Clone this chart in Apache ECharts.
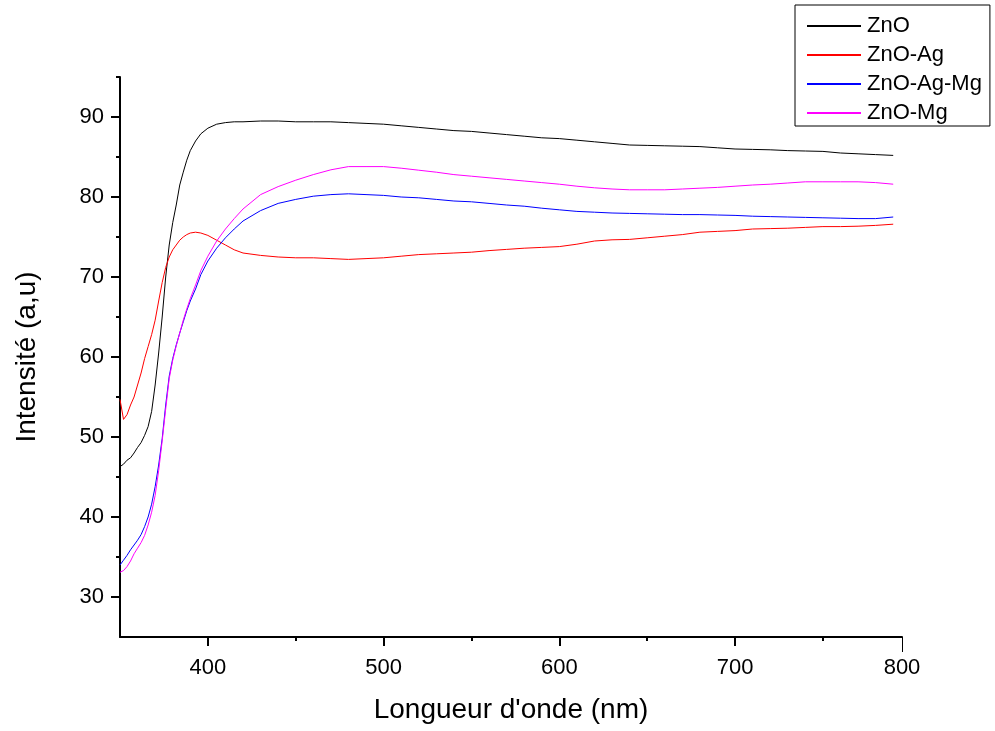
<!DOCTYPE html>
<html>
<head>
<meta charset="utf-8">
<title>Intensité</title>
<script src="https://cdn.jsdelivr.net/npm/echarts@6/dist/echarts.min.js"></script>
<style>
    html, body { margin: 0; padding: 0; background: #fff; }
    #chart { width: 995px; height: 731px; }
</style>
</head>
<body>
<div id="chart"></div>
<script>
    // longueur d'onde (nm)
    const wavelengths = [350, 352, 354, 356, 358, 360, 362, 364, 366, 368, 370, 372, 374, 376, 378, 380, 382, 384, 386, 388,
        390, 393, 396, 400, 405, 410, 415, 420, 430, 440, 450, 460, 470, 480, 490, 500, 510, 520, 530, 540,
        550, 560, 570, 580, 590, 600, 610, 620, 630, 640, 650, 660, 670, 680, 690, 700, 710, 720, 730, 740,
        750, 760, 770, 780, 790]

    const zno = [46.3, 46.6, 47.1, 47.4, 48.0, 48.7, 49.3, 50.2, 51.3, 53.2, 56.5, 60.5, 65.0, 70.0, 74.0, 76.8, 79.0, 81.5, 83.1, 84.6,
        85.8, 87.0, 87.9, 88.6, 89.1, 89.3, 89.4, 89.4, 89.5, 89.5, 89.4, 89.4, 89.4, 89.3, 89.2, 89.1, 88.9, 88.7, 88.5, 88.3,
        88.2, 88.0, 87.8, 87.6, 87.4, 87.3, 87.1, 86.9, 86.7, 86.5, 86.45, 86.4, 86.35, 86.3, 86.15, 86.0, 85.95, 85.9, 85.8, 85.75,
        85.7, 85.5, 85.4, 85.3, 85.2]

    const znoAg = [54.7, 52.2, 52.8, 54.0, 55.0, 56.5, 58.0, 59.8, 61.3, 62.8, 64.6, 67.0, 69.3, 71.2, 72.5, 73.4, 74.0, 74.6, 75.0, 75.3,
        75.5, 75.6, 75.5, 75.2, 74.6, 74.0, 73.4, 73.0, 72.7, 72.5, 72.4, 72.4, 72.3, 72.2, 72.3, 72.4, 72.6, 72.8, 72.9, 73.0,
        73.1, 73.3, 73.45, 73.6, 73.7, 73.8, 74.1, 74.5, 74.65, 74.7, 74.9, 75.1, 75.3, 75.6, 75.7, 75.8, 76.0, 76.05, 76.1, 76.2,
        76.3, 76.3, 76.35, 76.45, 76.6]

    const znoAgMg = [34.0, 34.6, 35.2, 35.9, 36.5, 37.1, 37.8, 38.8, 40.0, 41.6, 43.8, 46.5, 49.8, 54.0, 57.6, 59.8, 61.5, 63.0, 64.4, 65.8,
        67.0, 68.5, 70.3, 72.0, 73.6, 74.9, 76.0, 77.0, 78.3, 79.2, 79.7, 80.1, 80.3, 80.4, 80.3, 80.2, 80.0, 79.9, 79.7, 79.5,
        79.4, 79.2, 79.0, 78.85, 78.6, 78.4, 78.2, 78.1, 78.0, 77.95, 77.9, 77.85, 77.8, 77.8, 77.75, 77.7, 77.6, 77.55, 77.5, 77.45,
        77.4, 77.35, 77.3, 77.3, 77.5]

    const znoMg = [33.1, 33.3, 33.8, 34.5, 35.4, 36.1, 36.8, 37.7, 39.0, 40.6, 42.7, 45.8, 49.5, 53.5, 57.3, 59.6, 61.4, 63.0, 64.6, 66.0,
        67.3, 69.0, 70.8, 72.6, 74.5, 76.0, 77.3, 78.5, 80.3, 81.3, 82.1, 82.8, 83.4, 83.8, 83.8, 83.8, 83.6, 83.35, 83.1, 82.8,
        82.6, 82.4, 82.2, 82.0, 81.8, 81.6, 81.35, 81.15, 81.0, 80.9, 80.9, 80.9, 81.0, 81.1, 81.2, 81.35, 81.5, 81.6, 81.75, 81.9,
        81.9, 81.9, 81.9, 81.8, 81.6]

    const xMajorTicks = [400, 500, 600, 700]
    const xMinorTicks = [450, 550, 650, 750]
    const yMajorTicks = [30, 40, 50, 60, 70, 80, 90]
    const yMinorTicks = [35, 45, 55, 65, 75, 85, 95]

    const font = 'Liberation Sans, Arial, sans-serif'
    const pairs = vals => wavelengths.map((w, i) => [w, vals[i]])

    const line = (name, color, vals) => ({
        name: name,
        type: 'line',
        xAxisIndex: 0,
        yAxisIndex: 0,
        data: pairs(vals),
        symbol: 'none',
        showSymbol: false,
        animation: false,
        color: color,
        lineStyle: { color: color, width: 1 }
    })

    const chartDom = document.getElementById('chart')
    const myChart = echarts.init(chartDom)

    const option = {
        animation: false,
        backgroundColor: '#ffffff',
        grid: {
            left: 120,
            right: 93,
            top: 77,
            bottom: 94,
            containLabel: false
        },
        legend: {
            orient: 'vertical',
            left: 795,
            top: 5,
            padding: [10, 8, 2, 11],
            itemWidth: 54,
            itemHeight: 14,
            itemGap: 7,
            borderColor: '#000',
            borderWidth: 1,
            borderRadius: 0,
            backgroundColor: '#fff',
            itemStyle: { opacity: 0 },
            textStyle: { fontFamily: font, fontSize: 22, color: '#000', padding: [0, 0, 0, 1] },
            data: ['ZnO', 'ZnO-Ag', 'ZnO-Ag-Mg', 'ZnO-Mg']
        },
        xAxis: [
            {
                type: 'value',
                min: 350,
                max: 795,
                position: 'bottom',
                name: "Longueur d'onde (nm)",
                nameLocation: 'middle',
                nameGap: 59,
                nameTextStyle: { fontFamily: font, fontSize: 28, color: '#000' },
                splitLine: { show: false },
                axisLine: { lineStyle: { color: '#000', width: 2 } },
                axisTick: { customValues: xMajorTicks, length: 9, lineStyle: { color: '#000', width: 2 } },
                axisLabel: {
                    customValues: xMajorTicks,
                    margin: 20,
                    fontFamily: font,
                    fontSize: 22,
                    color: '#000'
                }
            },
            {
                type: 'value',
                min: 350,
                max: 795,
                position: 'bottom',
                splitLine: { show: false },
                axisLine: { show: false },
                axisTick: { customValues: xMinorTicks, length: 4, lineStyle: { color: '#000', width: 2 } },
                axisLabel: { show: false }
            },
            {
                type: 'value',
                min: 350,
                max: 795,
                position: 'bottom',
                splitLine: { show: false },
                axisLine: { show: false },
                axisTick: { customValues: [795], length: 15, lineStyle: { color: '#000', width: 1 } },
                axisLabel: {
                    customValues: [795],
                    formatter: () => '800',
                    margin: 20,
                    fontFamily: font,
                    fontSize: 22,
                    color: '#000'
                }
            }
        ],
        yAxis: [
            {
                type: 'value',
                min: 25,
                max: 95,
                position: 'left',
                name: 'Intensité (a,u)',
                nameLocation: 'middle',
                nameGap: 79,
                nameTextStyle: { fontFamily: font, fontSize: 28, color: '#000' },
                splitLine: { show: false },
                axisLine: { lineStyle: { color: '#000', width: 2 } },
                axisTick: { customValues: yMajorTicks, length: 9, lineStyle: { color: '#000', width: 2 } },
                axisLabel: {
                    customValues: yMajorTicks,
                    margin: 16,
                    fontFamily: font,
                    fontSize: 22,
                    color: '#000'
                }
            },
            {
                type: 'value',
                min: 25,
                max: 95,
                position: 'left',
                splitLine: { show: false },
                axisLine: { show: false },
                axisTick: { customValues: yMinorTicks, length: 4, lineStyle: { color: '#000', width: 2 } },
                axisLabel: { show: false }
            }
        ],
        series: [
            line('ZnO', '#000000', zno),
            line('ZnO-Ag', '#ff0000', znoAg),
            line('ZnO-Ag-Mg', '#0000ff', znoAgMg),
            line('ZnO-Mg', '#ff00ff', znoMg)
        ]
    }

    myChart.setOption(option)
</script>
</body>
</html>
